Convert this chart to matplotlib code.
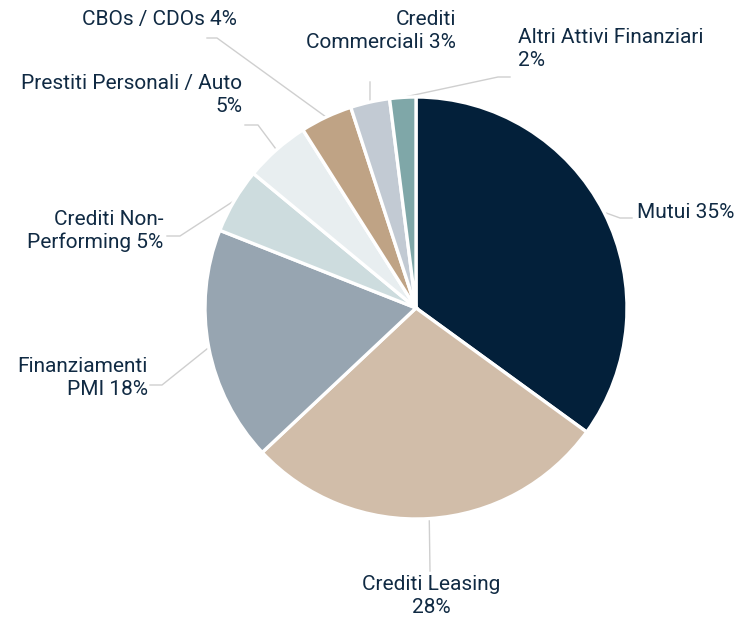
import numpy as np
import matplotlib
matplotlib.use("Agg")
import matplotlib.pyplot as plt

# data
labels = ["Mutui", "Crediti Leasing", "Finanziamenti PMI", "Crediti Non-Performing",
          "Prestiti Personali / Auto", "CBOs / CDOs", "Crediti Commerciali",
          "Altri Attivi Finanziari"]
values = [35, 28, 18, 5, 5, 4, 3, 2]
label_text = ["Mutui 35%", "Crediti Leasing\n28%", "Finanziamenti\nPMI 18%",
              "Crediti Non-\nPerforming 5%", "Prestiti Personali / Auto\n5%",
              "CBOs / CDOs 4%", "Crediti\nCommerciali 3%", "Altri Attivi Finanziari\n2%"]
colors = ["#03203a", "#d1bda9", "#97a5b1", "#cddcde", "#e8eef0", "#bfa385",
          "#c2cad3", "#7fa7a8"]

W, H = 738, 620
TXT = "#102a43"
LINE = "#cfcfcf"

# layout (pixel coords from top-left): leader elbow, leader end, label anchor, alignment
elbow = [(620, 218), (430, 571), (162, 385), (180, 236), (258, 125), (217, 38),
         (370, 82), (498, 77)]
lend = [(632, 218), (430, 571), (150, 385), (167, 236), (245, 125), (207, 38),
        (370, 82), (510, 77)]
lpos = [(637, 212), (431, 596), (148, 378), (163, 231), (242, 95), (237, 20),
        (456, 31), (518, 49)]
ha = ["left", "center", "right", "right", "right", "right", "right", "left"]

plt.rcParams["font.family"] = ["Roboto", "DejaVu Sans"]

fig = plt.figure(figsize=(W / 100, H / 100), dpi=100)
ax = fig.add_axes([0, 0, 1, 1])


def P(x, y):
    return x, H - y


cx, cy = P(416, 308)
R = 211
wedges, _ = ax.pie(values, colors=colors, startangle=90, counterclock=False,
                   center=(cx, cy), radius=R, frame=True,
                   wedgeprops=dict(edgecolor="white", linewidth=2.4))
ax.set_xlim(0, W)
ax.set_ylim(0, H)
ax.set_aspect("equal")
ax.axis("off")

for i, w in enumerate(wedges):
    a = np.deg2rad((w.theta1 + w.theta2) / 2)
    sx, sy = cx + R * np.cos(a), cy + R * np.sin(a)
    ex, ey = P(*elbow[i])
    fx, fy = P(*lend[i])
    ax.plot([sx, ex, fx], [sy, ey, fy], color=LINE, lw=1.0, zorder=0)
    tx, ty = P(*lpos[i])
    ax.text(tx, ty, label_text[i], ha=ha[i], va="center", fontsize=15,
            color=TXT, multialignment=ha[i], linespacing=1.25)

fig.savefig("out.png", dpi=100)
